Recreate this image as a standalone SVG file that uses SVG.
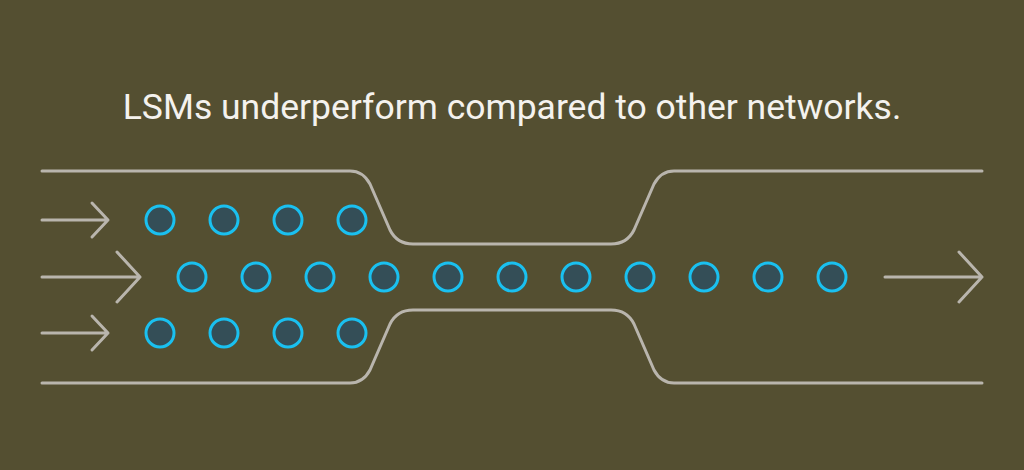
<svg xmlns="http://www.w3.org/2000/svg" width="1024" height="470" viewBox="0 0 1024 470">
<style>
.l{fill:none;stroke:#b9b5ad;stroke-width:3;stroke-linecap:round;stroke-linejoin:round}
.c{fill:#344e57;stroke:#1ac0f0;stroke-width:3}
</style>
<defs><circle id="d" r="14" class="c"/></defs>
<rect width="1024" height="470" fill="#544f31"/>
<text x="512" y="119" text-anchor="middle" font-family="Roboto, 'Liberation Sans', sans-serif" font-size="35.5" fill="#f4f2ee">LSMs underperform compared to other networks.</text>
<g id="connectors">
<path class="l" d="M42 171 H350 Q363 171 370 184 L390 230 Q397 244 413 244 H611 Q627 244 634 230 L654 184 Q661 171 674 171 H982"/>
<path class="l" d="M42 383 H350 Q363 383 370 370 L390 324 Q397 310 413 310 H611 Q627 310 634 324 L654 370 Q661 383 674 383 H982"/>
<path class="l" d="M42 220 H108 M92 203 L108 220 L92 237"/>
<path class="l" d="M42 333 H108 M92 316 L108 333 L92 350"/>
<path class="l" d="M42 277 H140 M117 252 L140 277 L117 302"/>
<path class="l" d="M885 277 H982 M959 252 L982 277 L959 302"/>
</g>
<g id="top"><use href="#d" x="160" y="220"/><use href="#d" x="224" y="220"/><use href="#d" x="288" y="220"/><use href="#d" x="352" y="220"/></g>
<g id="bottom"><use href="#d" x="160" y="333"/><use href="#d" x="224" y="333"/><use href="#d" x="288" y="333"/><use href="#d" x="352" y="333"/></g>
<g id="middle"><use href="#d" x="192" y="277"/><use href="#d" x="256" y="277"/><use href="#d" x="320" y="277"/><use href="#d" x="384" y="277"/><use href="#d" x="448" y="277"/><use href="#d" x="512" y="277"/><use href="#d" x="576" y="277"/><use href="#d" x="640" y="277"/><use href="#d" x="704" y="277"/><use href="#d" x="768" y="277"/><use href="#d" x="832" y="277"/></g>
</svg>
